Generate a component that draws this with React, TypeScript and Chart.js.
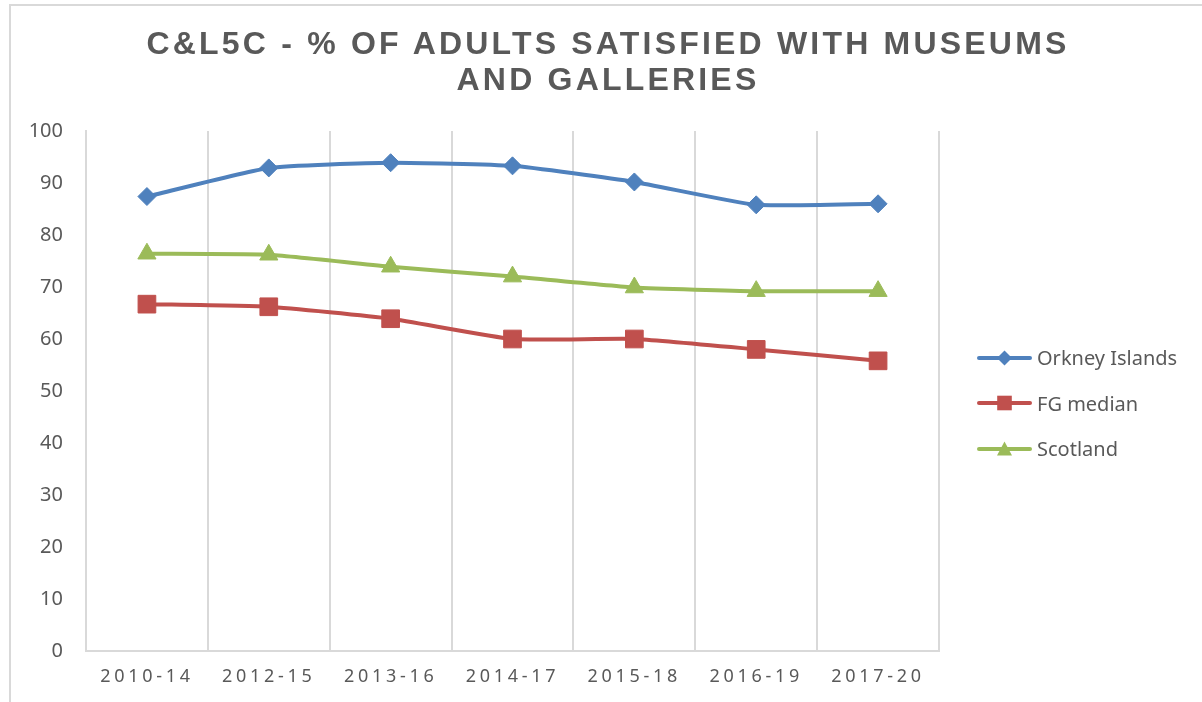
import React, { useEffect, useRef } from "react";
import { Chart, registerables } from "chart.js";

Chart.register(...registerables);

const categories = ["2010-14", "2012-15", "2013-16", "2014-17", "2015-18", "2016-19", "2017-20"];
const orkney = [87.4, 92.9, 93.9, 93.3, 90.2, 85.8, 86.0];
const fgMedian = [66.7, 66.2, 63.9, 60.0, 60.0, 58.0, 55.8];
const scotland = [76.4, 76.2, 73.9, 72.0, 69.9, 69.2, 69.2];
const titleLines = ["C&L5C - % OF ADULTS SATISFIED WITH MUSEUMS", "AND GALLERIES"];

const BLUE = "#4F81BD";
const RED = "#C0504D";
const GREEN = "#9BBB59";
const TEXT = "#595959";
const GRID = "#d9d9d9";

const legendItems = [
  { label: "Orkney Islands", color: BLUE, marker: "diamond" },
  { label: "FG median", color: RED, marker: "square" },
  { label: "Scotland", color: GREEN, marker: "triangle" },
];

const spacingPlugin = {
  id: "xLabelSpacing",
  beforeDraw(chart: any) {
    chart.ctx.letterSpacing = "0px";
  },
  afterDatasetsDraw(chart: any) {
    chart.ctx.letterSpacing = "3.7px";
  },
  afterDraw(chart: any) {
    chart.ctx.letterSpacing = "0px";
  },
};

function Marker({ kind, color }: { kind: string; color: string }) {
  const cx = 27.5;
  const cy = 10;
  let shape: any = null;
  if (kind === "diamond") {
    shape = <polygon points={`${cx - 7.5},${cy} ${cx},${cy - 7.5} ${cx + 7.5},${cy} ${cx},${cy + 7.5}`} fill={color} />;
  } else if (kind === "square") {
    shape = <rect x={cx - 7.3} y={cy - 7.3} width={14.6} height={14.6} fill={color} />;
  } else {
    shape = <polygon points={`${cx - 7.5},${cy + 6.5} ${cx},${cy - 7.5} ${cx + 7.5},${cy + 6.5}`} fill={color} />;
  }
  return (
    <svg width={55} height={20} style={{ display: "block" }}>
      <line x1={2} y1={cy} x2={53} y2={cy} stroke={color} strokeWidth={4} strokeLinecap="round" />
      {shape}
    </svg>
  );
}

export default function App() {
  const canvasRef = useRef<HTMLCanvasElement | null>(null);

  useEffect(() => {
    const canvas = canvasRef.current;
    if (!canvas) return;
    const chart = new Chart(canvas, {
      type: "line",
      data: {
        labels: categories,
        datasets: [
          {
            label: "Orkney Islands",
            data: orkney,
            borderColor: BLUE,
            backgroundColor: BLUE,
            borderWidth: 4,
            pointStyle: "rectRot",
            pointRadius: 9,
            pointBorderWidth: 1,
            pointBackgroundColor: BLUE,
            pointBorderColor: BLUE,
            tension: 0.15,
          },
          {
            label: "FG median",
            data: fgMedian,
            borderColor: RED,
            backgroundColor: RED,
            borderWidth: 4,
            pointStyle: "rect",
            pointRadius: 12.5,
            pointBorderWidth: 1,
            pointBackgroundColor: RED,
            pointBorderColor: RED,
            tension: 0.15,
          },
          {
            label: "Scotland",
            data: scotland,
            borderColor: GREEN,
            backgroundColor: GREEN,
            borderWidth: 4,
            pointStyle: "triangle",
            pointRadius: 10.5,
            pointBorderWidth: 1,
            pointBackgroundColor: GREEN,
            pointBorderColor: GREEN,
            tension: 0.15,
          },
        ],
      },
      options: {
        responsive: false,
        animation: false,
        layout: { padding: { left: 10, right: 263, top: 131, bottom: 11 } },
        plugins: {
          legend: { display: false },
          title: { display: false },
          tooltip: { enabled: false },
        },
        scales: {
          x: {
            type: "category",
            offset: true,
            grid: { display: true, offset: true, color: GRID, lineWidth: 2, drawTicks: false },
            border: { display: true, color: GRID, width: 2 },
            ticks: {
              color: TEXT,
              font: { family: "'Noto Sans', sans-serif", size: 18 },
              padding: 15,
              autoSkip: false,
              maxRotation: 0,
              z: 1,
            },
            afterFit(scale: any) {
              scale.height = 40;
            },
          },
          y: {
            min: 0,
            max: 100,
            grid: { display: false, drawTicks: false },
            border: { display: true, color: GRID, width: 2 },
            ticks: {
              stepSize: 10,
              color: TEXT,
              font: { family: "'Noto Sans', sans-serif", size: 20 },
              padding: 23,
            },
            afterFit(scale: any) {
              scale.width = 76;
            },
          },
        },
      },
      plugins: [spacingPlugin],
    } as any);
    return () => chart.destroy();
  }, []);

  return (
    <div
      style={{
        position: "fixed",
        left: 0,
        top: 0,
        width: 1202,
        height: 702,
        overflow: "hidden",
        background: "#ffffff",
      }}
    >
      <div
        style={{
          position: "absolute",
          left: 9,
          top: 4,
          width: 1400,
          height: 900,
          border: `2px solid ${GRID}`,
          boxSizing: "border-box",
        }}
      />
      <canvas
        ref={canvasRef}
        width={1202}
        height={702}
        style={{ position: "absolute", left: 0, top: 0, width: 1202, height: 702 }}
      />
      <div
        style={{
          position: "absolute",
          left: 10,
          top: 25,
          width: 1196,
          textAlign: "center",
          fontFamily: "'Liberation Sans', Arial, sans-serif",
          fontWeight: "bold",
          fontSize: 32,
          lineHeight: "36px",
          letterSpacing: "3.2px",
          color: TEXT,
        }}
      >
        {titleLines.map((t) => (
          <div key={t}>{t}</div>
        ))}
      </div>
      <div style={{ position: "absolute", left: 977, top: 335 }}>
        {legendItems.map((it) => (
          <div key={it.label} style={{ display: "flex", alignItems: "center", height: 45.5 }}>
            <Marker kind={it.marker} color={it.color} />
            <span
              style={{
                marginLeft: 5,
                fontFamily: "'Noto Sans', sans-serif",
                fontSize: 20,
                color: TEXT,
                whiteSpace: "nowrap",
              }}
            >
              {it.label}
            </span>
          </div>
        ))}
      </div>
    </div>
  );
}
